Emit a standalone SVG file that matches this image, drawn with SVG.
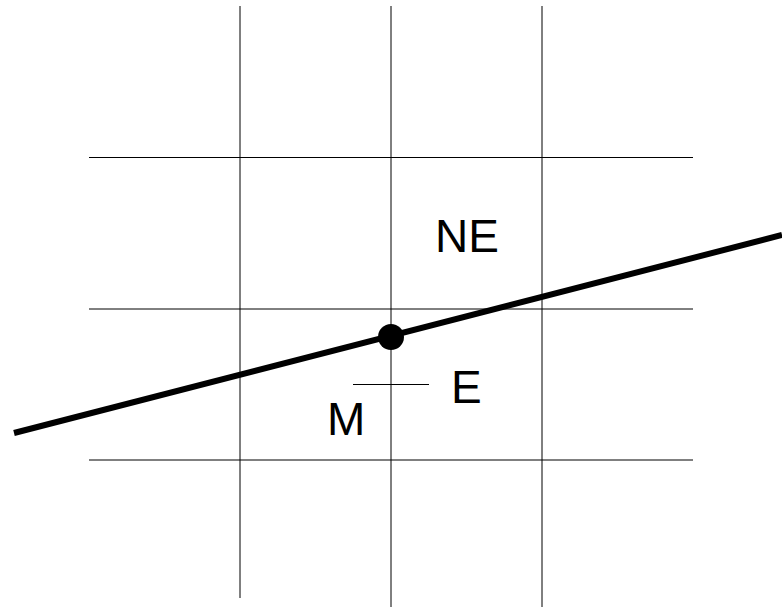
<svg xmlns="http://www.w3.org/2000/svg" width="782" height="610" viewBox="0 0 782 610">
<style>
.grid{stroke:#000;stroke-width:1;fill:none}
.lbl{font-family:"Liberation Sans",Arial,sans-serif;font-size:46px;fill:#000}
</style>
<rect width="782" height="610" fill="#fff"/>
<g id="grid">
<line class="grid" x1="240" y1="6" x2="240" y2="598"/>
<line class="grid" x1="391" y1="6" x2="391" y2="607"/>
<line class="grid" x1="542" y1="6" x2="542" y2="607"/>
<line class="grid" x1="89" y1="157.5" x2="693" y2="157.5"/>
<line class="grid" x1="89" y1="309" x2="693" y2="309"/>
<line class="grid" x1="89" y1="460" x2="693" y2="460"/>
</g>
<g id="connectors">
<line x1="14" y1="433" x2="782" y2="235" stroke="#000" stroke-width="6"/>
<line x1="353" y1="384.5" x2="429" y2="384.5" stroke="#000" stroke-width="1"/>
</g>
<g id="point"><circle cx="391" cy="337" r="13" fill="#000"/></g>
<g id="NE"><text class="lbl" x="435" y="252">NE</text></g>
<g id="E"><text class="lbl" x="451" y="403">E</text></g>
<g id="M"><text class="lbl" x="327" y="435">M</text></g>
</svg>
